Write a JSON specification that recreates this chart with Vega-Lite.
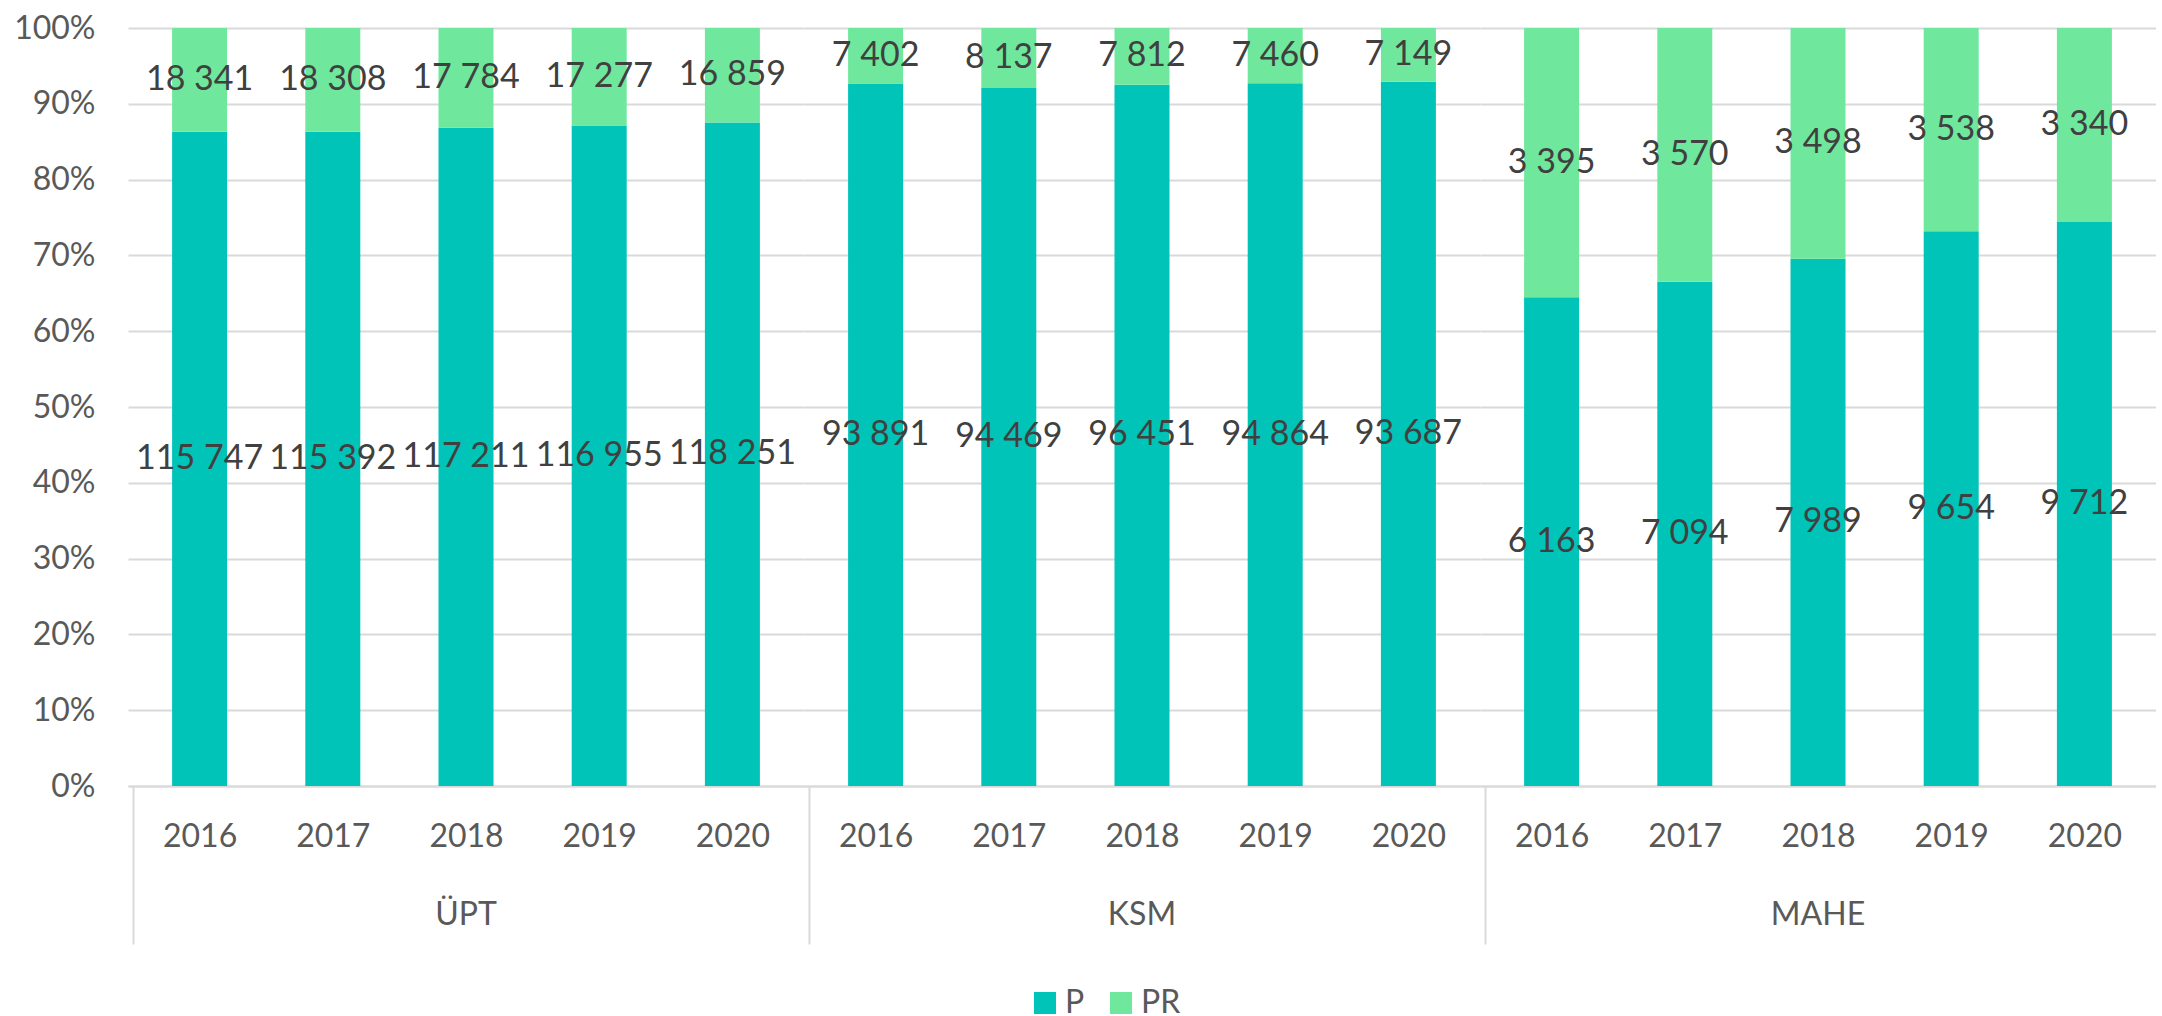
{
  "$schema": "https://vega.github.io/schema/vega-lite/v6.json",
  "padding": {"left": 13, "top": 12, "right": 0, "bottom": 0},
  "data": {"values": [
    {"group": "ÜPT", "year": 2016, "series": "P", "value": 115747},
    {"group": "ÜPT", "year": 2016, "series": "PR", "value": 18341},
    {"group": "ÜPT", "year": 2017, "series": "P", "value": 115392},
    {"group": "ÜPT", "year": 2017, "series": "PR", "value": 18308},
    {"group": "ÜPT", "year": 2018, "series": "P", "value": 117211},
    {"group": "ÜPT", "year": 2018, "series": "PR", "value": 17784},
    {"group": "ÜPT", "year": 2019, "series": "P", "value": 116955},
    {"group": "ÜPT", "year": 2019, "series": "PR", "value": 17277},
    {"group": "ÜPT", "year": 2020, "series": "P", "value": 118251},
    {"group": "ÜPT", "year": 2020, "series": "PR", "value": 16859},
    {"group": "KSM", "year": 2016, "series": "P", "value": 93891},
    {"group": "KSM", "year": 2016, "series": "PR", "value": 7402},
    {"group": "KSM", "year": 2017, "series": "P", "value": 94469},
    {"group": "KSM", "year": 2017, "series": "PR", "value": 8137},
    {"group": "KSM", "year": 2018, "series": "P", "value": 96451},
    {"group": "KSM", "year": 2018, "series": "PR", "value": 7812},
    {"group": "KSM", "year": 2019, "series": "P", "value": 94864},
    {"group": "KSM", "year": 2019, "series": "PR", "value": 7460},
    {"group": "KSM", "year": 2020, "series": "P", "value": 93687},
    {"group": "KSM", "year": 2020, "series": "PR", "value": 7149},
    {"group": "MAHE", "year": 2016, "series": "P", "value": 6163},
    {"group": "MAHE", "year": 2016, "series": "PR", "value": 3395},
    {"group": "MAHE", "year": 2017, "series": "P", "value": 7094},
    {"group": "MAHE", "year": 2017, "series": "PR", "value": 3570},
    {"group": "MAHE", "year": 2018, "series": "P", "value": 7989},
    {"group": "MAHE", "year": 2018, "series": "PR", "value": 3498},
    {"group": "MAHE", "year": 2019, "series": "P", "value": 9654},
    {"group": "MAHE", "year": 2019, "series": "PR", "value": 3538},
    {"group": "MAHE", "year": 2020, "series": "P", "value": 9712},
    {"group": "MAHE", "year": 2020, "series": "PR", "value": 3340}
  ]},
  "facet": {
    "column": {
      "field": "group",
      "type": "nominal",
      "sort": ["ÜPT", "KSM", "MAHE"],
      "header": {
        "title": null,
        "labelOrient": "bottom",
        "labelFont": "Lato",
        "labelFontSize": 32,
        "labelColor": "#595959",
        "labelPadding": -45
      }
    }
  },
  "spacing": 0,
  "spec": {
    "width": 676,
    "height": 758,
    "layer": [
      {
        "mark": {"type": "bar", "width": 55},
        "encoding": {
          "x": {
            "field": "year",
            "type": "quantitative",
            "scale": {"domain": [2015.5, 2020.5], "nice": false, "zero": false},
            "axis": {
              "title": null,
              "values": [2015.5, 2016, 2017, 2018, 2019, 2020],
              "labelExpr": "datum.value == 2015.5 ? '' : format(datum.value, 'd')",
              "grid": false,
              "domainColor": "#d9d9d9",
              "domainWidth": 2,
              "tickColor": "#d9d9d9",
              "tickWidth": 2,
              "tickSize": 158,
              "tickOpacity": {"condition": {"test": "datum.value == 2015.5", "value": 1}, "value": 0},
              "labelPadding": -123,
              "labelFont": "Lato",
              "labelFontSize": 32,
              "labelColor": "#595959",
              "labelFlush": false,
              "labelOverlap": false
            }
          },
          "y": {
            "field": "value",
            "type": "quantitative",
            "stack": "normalize",
            "scale": {"domain": [0, 1], "nice": false},
            "axis": {
              "title": null,
              "values": [0, 0.1, 0.2, 0.3, 0.4, 0.5, 0.6, 0.7, 0.8, 0.9, 1],
              "format": ".0%",
              "domain": false,
              "ticks": false,
              "gridColor": "#d9d9d9",
              "gridWidth": 2,
              "labelFont": "Lato",
              "labelFontSize": 32,
              "labelColor": "#595959",
              "labelPadding": 33
            }
          },
          "order": {"field": "series", "sort": "ascending"},
          "color": {
            "field": "series",
            "type": "nominal",
            "scale": {"domain": ["P", "PR"], "range": ["#00C4B8", "#6FE89D"]},
            "legend": {
              "title": null,
              "orient": "none",
              "legendX": 901,
              "legendY": 959,
              "direction": "horizontal",
              "symbolType": "square",
              "symbolSize": 484,
              "symbolStrokeWidth": 0,
              "labelFont": "Lato",
              "labelFontSize": 32,
              "labelColor": "#595959",
              "columnPadding": 20
            }
          }
        }
      },
      {
        "mark": {"type": "text", "font": "Lato", "fontSize": 34, "color": "#404040"},
        "encoding": {
          "x": {"field": "year", "type": "quantitative"},
          "y": {"field": "value", "type": "quantitative", "stack": "normalize", "bandPosition": 0.5},
          "detail": {"field": "series"},
          "order": {"field": "series", "sort": "ascending"},
          "text": {"field": "value", "type": "quantitative", "format": ",d"}
        }
      }
    ]
  },
  "config": {
    "view": {"stroke": null},
    "locale": {"number": {"decimal": ",", "thousands": " ", "grouping": [3], "currency": ["", ""]}}
  }
}
